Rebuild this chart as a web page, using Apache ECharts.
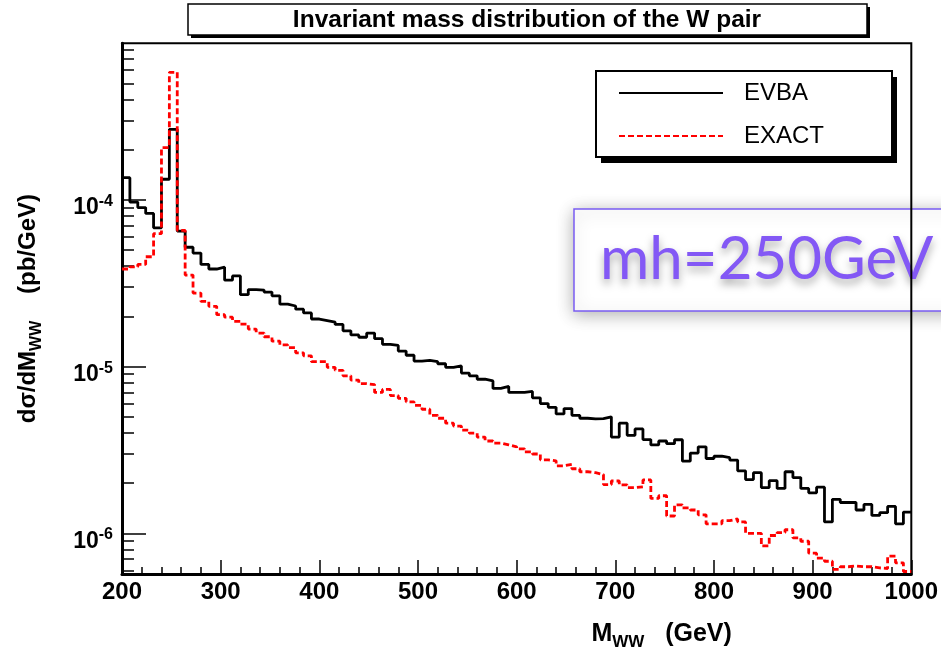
<!DOCTYPE html>
<html>
<head>
<meta charset="utf-8">
<script src="https://cdn.jsdelivr.net/npm/echarts@6/dist/echarts.min.js"></script>
<style>
  html, body { margin: 0; padding: 0; background: #fff; }
  #chart-container { width: 941px; height: 656px; }
</style>
</head>
<body>
<div id="chart-container"></div>
<script>
// bins: 8 GeV wide, from 200 to 1000 GeV
var binStart = 200;
var binWidth = 8;

// dsigma/dM_WW (pb/GeV), EVBA approximation
var evba = [
  1.36e-4, 9.7e-5, 9.0e-5, 8.3e-5, 6.8e-5, 1.33e-4, 2.65e-4, 6.5e-5, 5.2e-5, 4.8e-5,
  4.1e-5, 3.85e-5, 3.95e-5, 3.3e-5, 3.5e-5, 2.7e-5, 2.9e-5, 2.88e-5, 2.8e-5, 2.66e-5,
  2.37e-5, 2.31e-5, 2.21e-5, 2.10e-5, 1.93e-5, 1.89e-5, 1.85e-5, 1.79e-5, 1.64e-5, 1.55e-5,
  1.50e-5, 1.59e-5, 1.47e-5, 1.36e-5, 1.34e-5, 1.24e-5, 1.17e-5, 1.08e-5, 1.09e-5, 1.07e-5,
  1.04e-5, 9.9e-6, 1.01e-5, 9.15e-6, 8.8e-6, 8.4e-6, 8.2e-6, 7.4e-6, 7.6e-6, 7.0e-6,
  7.0e-6, 7.1e-6, 6.5e-6, 6.0e-6, 5.7e-6, 5.2e-6, 5.6e-6, 5.1e-6, 4.9e-6, 4.86e-6,
  4.87e-6, 5.0e-6, 3.78e-6, 4.58e-6, 3.87e-6, 4.23e-6, 3.65e-6, 3.39e-6, 3.58e-6, 3.45e-6,
  3.64e-6, 2.71e-6, 3.03e-6, 3.30e-6, 2.81e-6, 2.90e-6, 2.84e-6, 2.75e-6, 2.37e-6, 2.10e-6,
  2.31e-6, 1.88e-6, 2.07e-6, 1.86e-6, 2.34e-6, 2.16e-6, 1.86e-6, 1.75e-6, 1.89e-6, 1.17e-6,
  1.60e-6, 1.53e-6, 1.53e-6, 1.38e-6, 1.49e-6, 1.28e-6, 1.33e-6, 1.45e-6, 1.14e-6, 1.34e-6
];

// exact calculation
var exact = [
  3.85e-5, 3.97e-5, 4.10e-5, 4.56e-5, 6.27e-5, 2.06e-4, 5.83e-4, 6.57e-5, 3.54e-5, 2.76e-5,
  2.46e-5, 2.30e-5, 2.05e-5, 1.98e-5, 1.87e-5, 1.80e-5, 1.68e-5, 1.59e-5, 1.51e-5, 1.42e-5,
  1.35e-5, 1.30e-5, 1.21e-5, 1.16e-5, 1.07e-5, 1.07e-5, 9.9e-6, 9.5e-6, 8.8e-6, 8.3e-6,
  7.9e-6, 7.8e-6, 7.0e-6, 7.3e-6, 6.7e-6, 6.45e-6, 6.15e-6, 5.86e-6, 5.55e-6, 5.1e-6,
  4.9e-6, 4.58e-6, 4.4e-6, 4.16e-6, 3.99e-6, 3.78e-6, 3.58e-6, 3.48e-6, 3.39e-6, 3.30e-6,
  3.21e-6, 3.08e-6, 2.99e-6, 2.76e-6, 2.72e-6, 2.54e-6, 2.59e-6, 2.44e-6, 2.34e-6, 2.31e-6,
  2.25e-6, 1.96e-6, 2.06e-6, 1.95e-6, 1.88e-6, 1.90e-6, 2.09e-6, 1.62e-6, 1.68e-6, 1.27e-6,
  1.48e-6, 1.42e-6, 1.38e-6, 1.29e-6, 1.14e-6, 1.14e-6, 1.19e-6, 1.22e-6, 1.17e-6, 1.00e-6,
  1.00e-6, 8.4e-7, 9.7e-7, 1.01e-6, 1.05e-6, 9.4e-7, 8.96e-7, 7.6e-7, 7.1e-7, 6.8e-7,
  6.08e-7, 6.3e-7, 6.37e-7, 6.3e-7, 6.3e-7, 6.2e-7, 6.15e-7, 7.3e-7, 6.65e-7, 5.9e-7
];

var yMajor = [1e-6, 1e-5, 1e-4];
var yMinor = [
  6e-7, 7e-7, 8e-7, 9e-7,
  2e-6, 3e-6, 4e-6, 5e-6, 6e-6, 7e-6, 8e-6, 9e-6,
  2e-5, 3e-5, 4e-5, 5e-5, 6e-5, 7e-5, 8e-5, 9e-5,
  2e-4, 3e-4, 4e-4, 5e-4, 6e-4, 7e-4, 8e-4
];
var yMin = 5.7e-7;
var yMax = 8.7e-4;

function toSteps(values) {
  var pts = values.map(function (v, i) { return [binStart + i * binWidth, v]; });
  pts.push([binStart + values.length * binWidth, values[values.length - 1]]);
  return pts;
}

var FONT = "'Liberation Sans', Arial, Helvetica, sans-serif";

var dom = document.getElementById("chart-container");
var myChart = echarts.init(dom, null, { renderer: "canvas" });

var option = {
  animation: false,
  backgroundColor: "#fff",
  grid: {
    left: 122, right: 29.5, top: 43.3, bottom: 78.3,
    show: true, borderColor: "#000", borderWidth: 2, backgroundColor: "transparent"
  },
  legend: {
    orient: "vertical",
    left: 596, top: 71,
    z: 20,
    padding: [10, 62, 9, 22],
    itemWidth: 104, itemHeight: 24, itemGap: 19,
    itemStyle: { color: "rgba(0,0,0,0)", borderWidth: 0 },
    textStyle: { fontFamily: FONT, fontSize: 24, color: "#000", padding: [0, 0, 0, 16], lineHeight: 24 },
    data: ["EVBA", "EXACT"]
  },
  xAxis: {
    type: "value",
    min: 200, max: 1000, interval: 100,
    name: "{m|M}{s|WW}{m|   (GeV)}",
    nameLocation: "middle",
    nameGap: 44,
    nameTextStyle: {
      padding: [0, 0, 0, 290],
      rich: {
        m: { fontFamily: FONT, fontSize: 25, fontWeight: "bold", color: "#000" },
        s: { fontFamily: FONT, fontSize: 17, fontWeight: "bold", color: "#000", padding: [16, 0, 0, 0] }
      }
    },
    axisLine: { onZero: false, lineStyle: { color: "#000", width: 3 } },
    axisTick: { inside: true, length: 14, lineStyle: { color: "#000", width: 1.5 } },
    minorTick: { show: true, splitNumber: 5, length: 7, lineStyle: { color: "#000", width: 1.5 } },
    axisLabel: {
      margin: 6, fontFamily: FONT, fontSize: 24, fontWeight: "bold", color: "#000",
      formatter: function (v) { return String(v); }
    },
    splitLine: { show: false }
  },
  yAxis: [
    {
      type: "log", logBase: 10,
      min: yMin, max: yMax,
      name: "{m|dσ/dM}{s|WW}{m|    (pb/GeV)}",
      nameLocation: "middle",
      nameRotate: 90,
      nameGap: 77,
      nameTextStyle: {
        rich: {
          m: { fontFamily: FONT, fontSize: 24, fontWeight: "bold", color: "#000" },
          s: { fontFamily: FONT, fontSize: 16, fontWeight: "bold", color: "#000", padding: [18, 0, 0, 0] }
        }
      },
      axisLine: { onZero: false, lineStyle: { color: "#000", width: 3 } },
      axisTick: { inside: true, length: 24, customValues: yMajor, lineStyle: { color: "#000", width: 1.5 } },
      axisLabel: {
        margin: 9,
        customValues: yMajor,
        padding: [16, 0, 0, 0],
        formatter: function (v) {
          return "{b|10}{s|" + Math.round(Math.log10(v)) + "}";
        },
        rich: {
          b: { fontFamily: FONT, fontSize: 23, fontWeight: "bold", color: "#000", verticalAlign: "middle" },
          s: { fontFamily: FONT, fontSize: 16, fontWeight: "bold", color: "#000", verticalAlign: "middle", padding: [0, 0, 13, 0] }
        }
      },
      splitLine: { show: false }
    },
    {
      type: "log", logBase: 10,
      min: yMin, max: yMax,
      position: "left",
      axisLine: { show: false },
      axisTick: { inside: true, length: 12, customValues: yMinor, lineStyle: { color: "#000", width: 1.5 } },
      axisLabel: { show: false },
      splitLine: { show: false }
    }
  ],
  series: [
    {
      name: "EVBA",
      type: "line",
      step: "end",
      symbol: "none",
      data: toSteps(evba),
      itemStyle: { color: "#000" },
      lineStyle: { color: "#000", width: 2.8 },
      z: 3
    },
    {
      name: "EXACT",
      type: "line",
      step: "end",
      symbol: "none",
      data: toSteps(exact),
      itemStyle: { color: "#ff0000" },
      lineStyle: { color: "#ff0000", width: 2.8, type: [6, 3] },
      z: 4
    }
  ],
  graphic: [
    // title box with hard shadow
    { type: "rect", z: 10, shape: { x: 191, y: 7, width: 679, height: 31 }, style: { fill: "#000" } },
    { type: "rect", z: 11, shape: { x: 188, y: 4, width: 679, height: 31 }, style: { fill: "#fff", stroke: "#000", lineWidth: 1.5 } },
    {
      type: "text", z: 12,
      x: 527, y: 20,
      style: { text: "Invariant mass distribution of the W pair", font: "bold 24.5px " + FONT, fill: "#000", align: "center", verticalAlign: "middle" }
    },
    // legend box with hard shadow
    { type: "rect", z: 10, shape: { x: 601, y: 77, width: 296, height: 86 }, style: { fill: "#000" } },
    { type: "rect", z: 11, shape: { x: 596, y: 71, width: 296, height: 86 }, style: { fill: "#fff", stroke: "#000", lineWidth: 2 } },
    // pasted annotation
    {
      type: "rect", z: -1,
      shape: { x: 574, y: 209, width: 420, height: 102 },
      style: { fill: "#fff", stroke: "#7a5cf2", lineWidth: 1.5, shadowColor: "rgba(0,0,0,0.3)", shadowBlur: 16, shadowOffsetY: 3 }
    },
    {
      type: "text", z: -1,
      x: 600, y: 260,
      style: {
        text: "mh=250GeV", font: "60px Lato, 'Open Sans', sans-serif", fill: "#8358f5",
        align: "left", verticalAlign: "middle",
        textShadowColor: "rgba(0,0,0,0.35)", textShadowBlur: 8, textShadowOffsetY: 5
      }
    }
  ]
};

myChart.setOption(option);
window.addEventListener("resize", myChart.resize);
</script>
</body>
</html>
